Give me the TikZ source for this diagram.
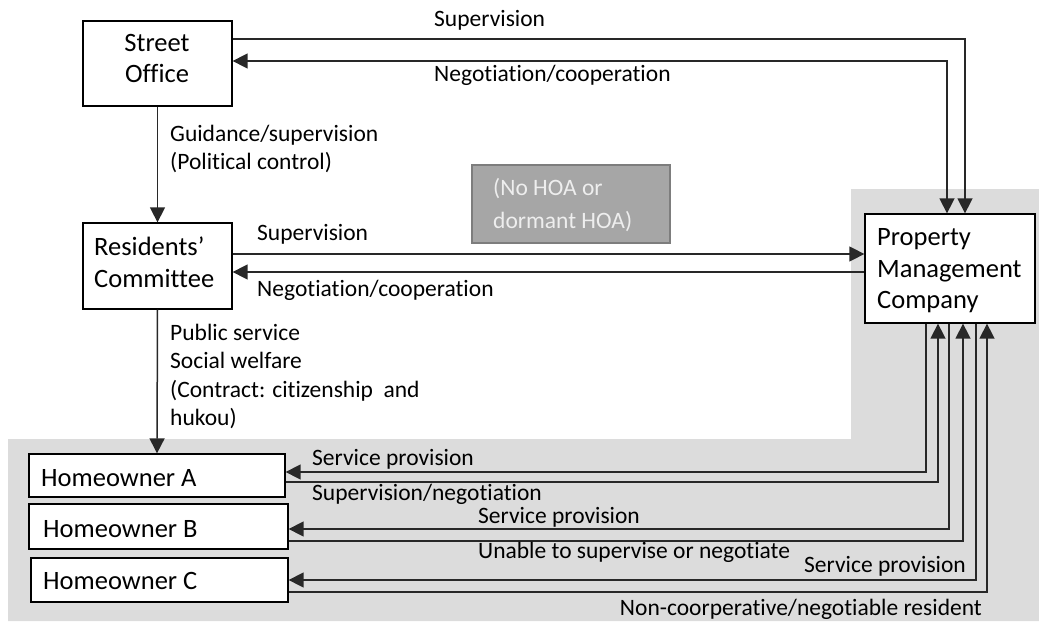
\documentclass[tikz,border=0pt]{standalone}
\usepackage{fontspec}
\setmainfont[Ligatures={NoCommon}]{Carlito}
\usetikzlibrary{arrows.meta}
\definecolor{bgzone}{RGB}{220,220,220}
\definecolor{hoafill}{RGB}{166,166,166}
\definecolor{hoaline}{RGB}{125,125,125}
\definecolor{hoatext}{RGB}{238,238,238}
\definecolor{linecol}{RGB}{40,40,40}
\tikzset{
  box/.style={draw=black, line width=1.3pt, fill=white, inner sep=0pt},
  conn/.style={draw=linecol, line width=1.5pt},
  tip/.style={-{Triangle[length=15pt,width=15pt]}},
  tipboth/.style={{Triangle[length=15pt,width=15pt]}-{Triangle[length=15pt,width=15pt]}},
  tipstart/.style={{Triangle[length=15pt,width=15pt]}-},
  boxtxt/.style={inner sep=0pt, anchor=base west, font=\fontsize{26.5}{32}\selectfont},
  lbl/.style={inner sep=0pt, anchor=base west, font=\fontsize{23.5}{28}\selectfont},
}
\begin{document}
\begin{tikzpicture}[x=1pt,y=-1pt]
\useasboundingbox (0,0) rectangle (1039,623);

% shaded zone around the company and the homeowners
\fill[bgzone] (8,439) -- (851,439) -- (851,189) -- (1039,189) -- (1039,621) -- (8,621) -- cycle;

% boxes
\node[box, minimum width=149pt, minimum height=85pt]  (so)  at (157.5,63.5) {};
\node[box, minimum width=149pt, minimum height=86pt]  (rc)  at (157.5,266) {};
\node[box, minimum width=170pt, minimum height=109pt] (pmc) at (950,268.5) {};
\node[draw=hoaline, line width=2pt, fill=hoafill, minimum width=198pt, minimum height=78pt, inner sep=0pt] (hoa) at (571,204) {};
\node[box, minimum width=256pt, minimum height=43pt] (ha) at (157,475.5) {};
\node[box, minimum width=259pt, minimum height=45pt] (hb) at (158.5,526.5) {};
\node[box, minimum width=257pt, minimum height=44pt] (hc) at (159.5,580) {};

% box texts
\node[boxtxt, anchor=base] (t1) at (157,51.7) {Street};
\node[boxtxt, anchor=base] (t2) at (157,83) {Office};
\node[boxtxt] (t3) at (94,255) {Residents’};
\node[boxtxt] (t4) at (94,287) {Committee};
\node[boxtxt] (t5) at (877,245) {Property};
\node[boxtxt] (t6) at (877,277) {Management};
\node[boxtxt] (t7) at (877,308) {Company};
\node[boxtxt] (t8) at (41,486) {Homeowner A};
\node[boxtxt] (t9) at (43,537) {Homeowner B};
\node[boxtxt] (t10) at (43,589) {Homeowner C};
\node[lbl, text=hoatext, font=\fontsize{23.5}{28}\selectfont] (t11) at (493,196) {(No HOA or};
\node[lbl, text=hoatext, font=\fontsize{23.5}{28}\selectfont] (t12) at (493,228) {dormant HOA)};

% street office and company
\draw[conn, tip] ([yshift=24.5pt]so.east) -| ([xshift=15pt]pmc.north);
\draw[conn, tipboth] ([yshift=2.5pt]so.east) -| ([xshift=-3pt]pmc.north);
% street office to residents' committee
\draw[conn, tip] (so.south) -- (rc.north);
% residents' committee and company
\draw[conn, tip] ([yshift=12pt]rc.east) -- ([yshift=12pt]rc.east -| pmc.west);
\draw[conn, tipstart] ([yshift=-6pt]rc.east) -- ([yshift=-6pt]rc.east -| pmc.west);
% residents' committee to homeowners
\draw[conn, tip] (rc.south) -- (ha.north);
% company and homeowners
\draw[conn, tip] ([xshift=-24pt]pmc.south) |- ([yshift=3.5pt]ha.east);
\draw[conn, tip] ([yshift=-6.5pt]ha.east) -| ([xshift=-12pt]pmc.south);
\draw[conn, tip] ([xshift=-1pt]pmc.south) |- ([yshift=-2.5pt]hb.east);
\draw[conn, tip] ([yshift=-14.5pt]hb.east) -| ([xshift=13pt]pmc.south);
\draw[conn, tip] ([xshift=26pt]pmc.south) |- (hc.east);
\draw[conn, tip] ([yshift=-12pt]hc.east) -| ([xshift=37pt]pmc.south);

% connector labels
\node[lbl] (l1) at (434,27) {Supervision};
\node[lbl] (l2) at (434,82) {Negotiation/cooperation};
\node[lbl] (l3) at (170,141.5) {Guidance/supervision};
\node[lbl] (l4) at (170,169.5) {(Political control)};
\node[lbl] (l5) at (257,240.5) {Supervision};
\node[lbl] (l6) at (257,296.5) {Negotiation/cooperation};
\node[lbl] (l7) at (170,340) {Public service};
\node[lbl] (l8) at (170,368) {Social welfare};
\node[lbl] (l9) at (170,397) {(Contract: citizenship\ \ and};
\node[lbl] (l10) at (170,425) {hukou)};
\node[lbl] (l11) at (312,465) {Service provision};
\node[lbl] (l12) at (312,500) {Supervision/negotiation};
\node[lbl] (l13) at (478,523) {Service provision};
\node[lbl] (l14) at (478,558) {Unable to supervise or negotiate};
\node[lbl] (l15) at (804,572) {Service provision};
\node[lbl, anchor=base east] (l16) at (982,615) {Non-coorperative/negotiable resident};
\end{tikzpicture}
\end{document}
